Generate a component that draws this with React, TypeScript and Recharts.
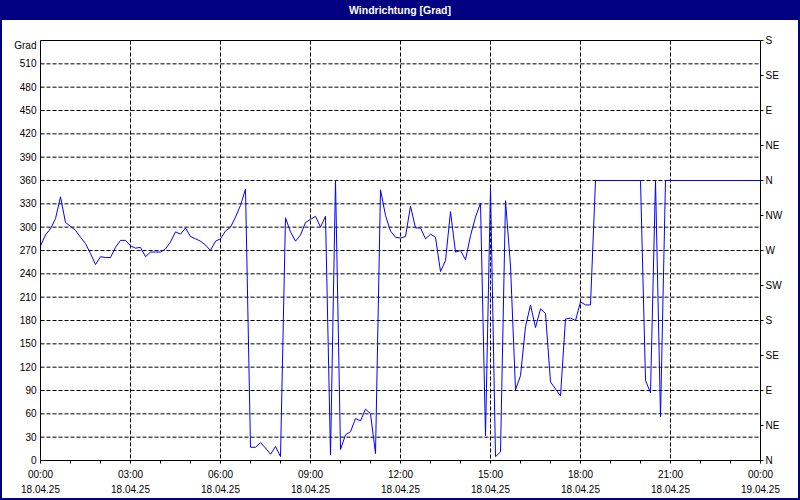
import { LineChart, Line, XAxis, YAxis, CartesianGrid, ReferenceLine } from 'recharts';

const FONT = '"Liberation Sans", Arial, sans-serif';
const NAVY = '#000080';

// time of each reading, minutes since 18.04.25 00:00
const minutes = [
  0, 10, 20, 30, 40, 50, 60, 70, 80, 90, 100, 110, 120, 130, 140, 150, 160, 170,
  180, 190, 200, 210, 220, 230, 240, 250, 260, 270, 280, 290, 300, 310, 320, 330,
  340, 350, 360, 370, 380, 390, 400, 410, 420, 430, 440, 450, 460, 470, 480, 490,
  500, 510, 520, 530, 540, 550, 560, 570, 580, 590, 600, 610, 620, 630, 640, 650,
  660, 670, 680, 690, 700, 710, 720, 730, 740, 750, 760, 770, 780, 790, 800, 810,
  820, 830, 840, 850, 860, 870, 880, 890, 900, 910, 920, 930, 940, 950, 960, 970,
  980, 990, 1000, 1010, 1020, 1030, 1040, 1050, 1060, 1070, 1080, 1090, 1100, 1110,
  1200, 1210, 1220, 1230, 1240, 1250, 1440,
];

// wind direction in degrees
const degrees = [
  276, 290, 298, 311, 339, 306, 301, 296, 287, 279, 266, 252, 262, 261, 261, 274, 283, 283,
  276, 273, 274, 262, 268, 268, 268, 272, 281, 294, 291, 299, 288, 285, 282, 277,
  270, 282, 285, 295, 300, 313, 328, 349, 17, 17, 23, 16, 8, 18, 5, 312,
  294, 282, 290, 306, 310, 314, 300, 314, 7, 360, 14, 33, 37, 54, 51, 66,
  60, 9, 348, 315, 295, 287, 286, 288, 327, 299, 299, 285, 291, 287, 243, 257,
  320, 268, 270, 258, 289, 313, 331, 32, 351, 5, 11, 334, 250, 91, 109, 172,
  200, 171, 195, 189, 101, 92, 83, 182, 183, 180, 204, 200, 200, 360,
  360, 103, 87, 360, 56, 360, 360,
];

const leftTicks = [0, 30, 60, 90, 120, 150, 180, 210, 240, 270, 300, 330, 360, 390, 420, 450, 480, 510, 540];
const gridRows = [30, 60, 90, 120, 150, 180, 210, 240, 270, 300, 330, 360, 390, 420, 450, 480, 510];
const rightTicks = [0, 45, 90, 135, 180, 225, 270, 315, 360, 405, 450, 495, 540];
const rightLabels = ['N', 'NE', 'E', 'SE', 'S', 'SW', 'W', 'NW', 'N', 'NE', 'E', 'SE', 'S'];

const hourTicks = [
  0, 60, 120, 180, 240, 300, 360, 420, 480, 540, 600, 660, 720, 780, 840, 900, 960,
  1020, 1080, 1140, 1200, 1260, 1320, 1380, 1440,
];
const labelTicks = [0, 180, 360, 540, 720, 900, 1080, 1260, 1440];
const timeLabels = ['00:00', '03:00', '06:00', '09:00', '12:00', '15:00', '18:00', '21:00', '00:00'];
const dateLabels = ['18.04.25', '18.04.25', '18.04.25', '18.04.25', '18.04.25', '18.04.25', '18.04.25', '18.04.25', '19.04.25'];
const gridCols = [180, 360, 540, 720, 900, 1080, 1260];

const data = minutes.map((t, i) => ({ t, deg: degrees[i] }));

const textStyle = { fontFamily: FONT, fontSize: 10, fill: '#000' };

function LeftTick(props: any) {
  const { x, y, payload } = props;
  if (payload.value === 540) {
    return (
      <text x={x} y={y + 8} textAnchor="end" {...textStyle}>
        Grad
      </text>
    );
  }
  return (
    <text x={x} y={y + 3.5} textAnchor="end" {...textStyle}>
      {payload.value}
    </text>
  );
}

function RightTick(props: any) {
  const { x, y, payload } = props;
  const i = rightTicks.indexOf(Number(payload.value));
  return (
    <text x={x} y={y + 3.5} textAnchor="start" {...textStyle}>
      {i >= 0 ? rightLabels[i] : ''}
    </text>
  );
}

function BottomTick(props: any) {
  const { x, y, payload } = props;
  const i = labelTicks.indexOf(payload.value);
  if (i < 0) return <g />;
  return (
    <g>
      <text x={x} y={y + 12} textAnchor="middle" {...textStyle}>
        {timeLabels[i]}
      </text>
      <text x={x} y={y + 27} textAnchor="middle" {...textStyle}>
        {dateLabels[i]}
      </text>
    </g>
  );
}

export default function App() {
  return (
    <div
      style={{
        position: 'fixed',
        left: 0,
        top: 0,
        width: 800,
        height: 500,
        background: '#fff',
        overflow: 'hidden',
      }}
    >
      <LineChart
        width={800}
        height={500}
        data={data}
        margin={{ top: 40.5, right: 0, bottom: 0, left: 0.5 }}
      >
        <CartesianGrid
          yAxisId="left"
          stroke="#000"
          strokeDasharray="4 2"
          horizontalValues={gridRows}
          verticalValues={gridCols}
        />
        <XAxis
          dataKey="t"
          type="number"
          domain={[0, 1440]}
          ticks={hourTicks}
          interval={0}
          height={39.5}
          tickSize={3}
          tickMargin={2}
          axisLine={{ stroke: '#000' }}
          tickLine={{ stroke: '#000' }}
          tick={<BottomTick />}
        />
        <YAxis
          yAxisId="left"
          type="number"
          domain={[0, 540]}
          ticks={leftTicks}
          interval={0}
          width={40}
          tickSize={0}
          tickMargin={4}
          tickLine={false}
          axisLine={{ stroke: '#000' }}
          tick={<LeftTick />}
        />
        <YAxis
          yAxisId="right"
          orientation="right"
          type="number"
          domain={[0, 540]}
          allowDataOverflow
          ticks={rightTicks}
          interval={0}
          width={39.5}
          tickSize={3}
          tickMargin={2}
          tickLine={{ stroke: '#000' }}
          axisLine={{ stroke: '#000' }}
          tick={<RightTick />}
        />
        <ReferenceLine yAxisId="left" y={540} stroke="#000" strokeWidth={1} />
        <Line
          yAxisId="left"
          type="linear"
          dataKey="deg"
          stroke="#0000ff"
          strokeWidth={1}
          dot={false}
          activeDot={false}
          isAnimationActive={false}
        />
        <Line
          yAxisId="right"
          type="linear"
          dataKey="deg"
          stroke="none"
          dot={false}
          activeDot={false}
          legendType="none"
          isAnimationActive={false}
        />
      </LineChart>
      <div
        style={{
          position: 'absolute',
          left: 0,
          top: 0,
          width: 800,
          height: 20,
          background: NAVY,
          color: '#fff',
          fontFamily: FONT,
          fontWeight: 'bold',
          fontSize: 10.5,
          lineHeight: '20px',
          textAlign: 'center',
        }}
      >
        Windrichtung [Grad]
      </div>
      <div style={{ position: 'absolute', left: 0, top: 0, width: 2, height: 500, background: NAVY }} />
      <div style={{ position: 'absolute', right: 0, top: 0, width: 2, height: 500, background: NAVY }} />
      <div style={{ position: 'absolute', left: 0, bottom: 0, width: 800, height: 2, background: NAVY }} />
    </div>
  );
}
